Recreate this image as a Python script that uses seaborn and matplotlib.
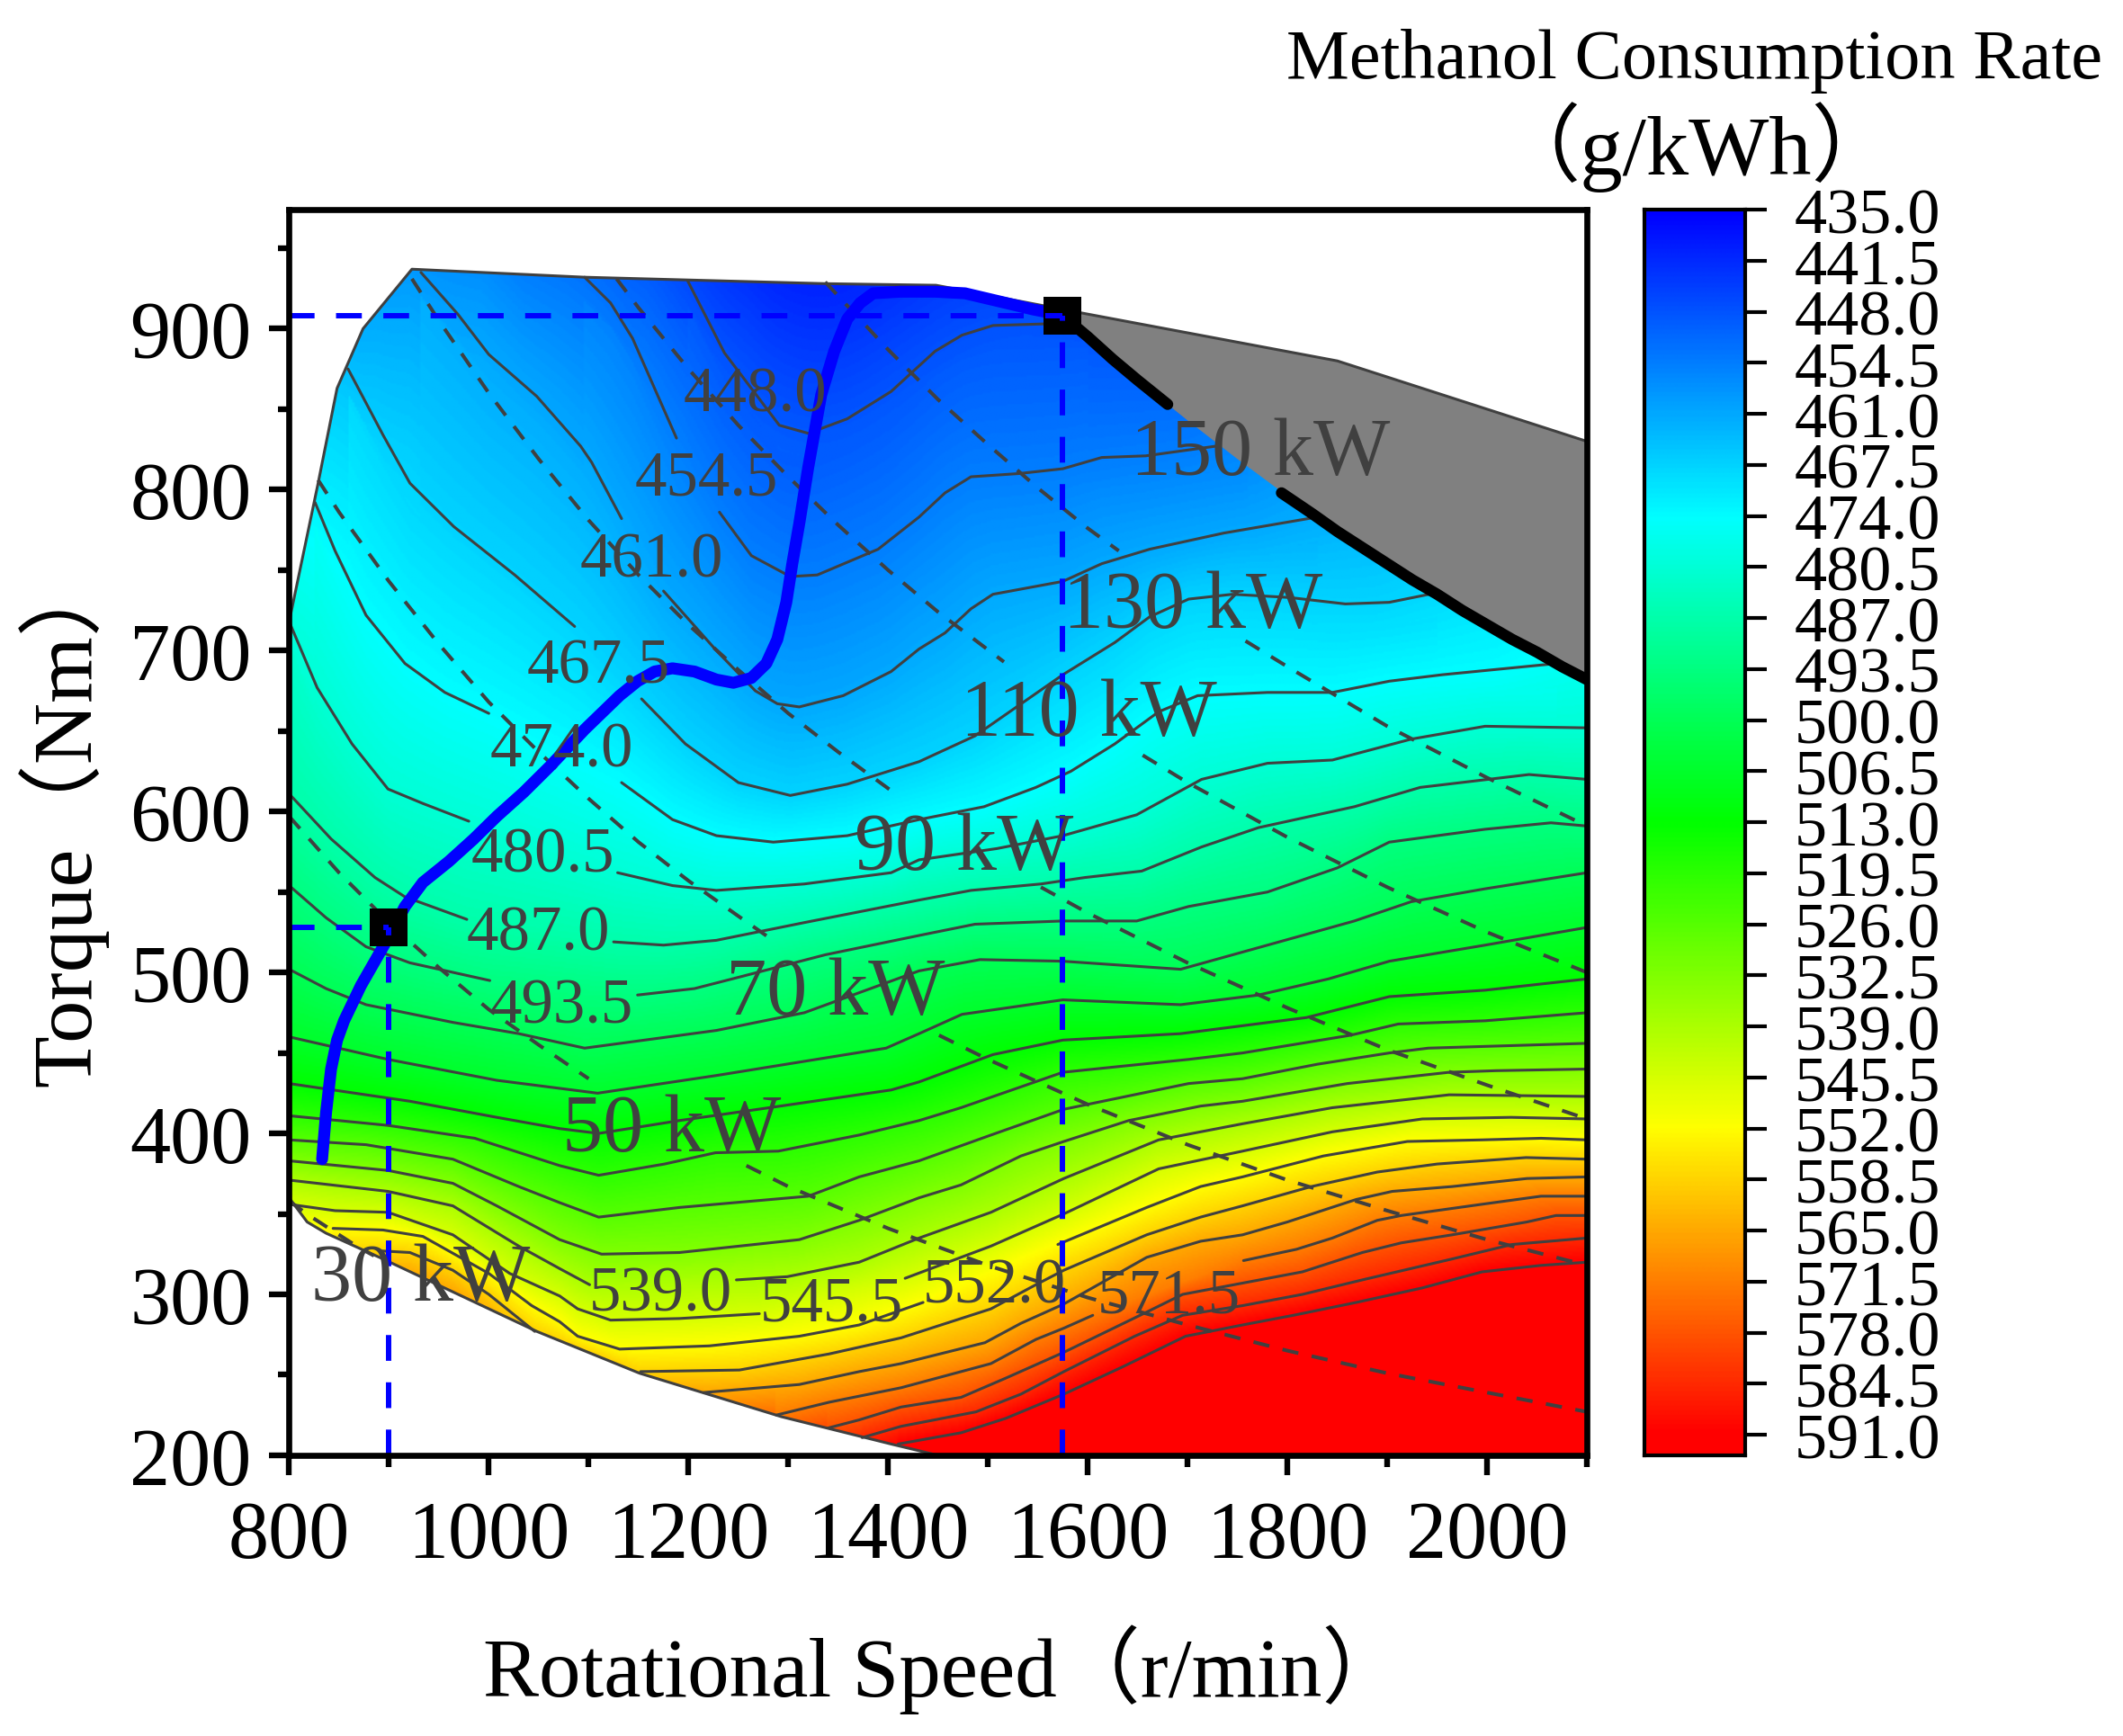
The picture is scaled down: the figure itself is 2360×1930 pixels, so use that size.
import numpy as np
import pandas as pd
import matplotlib
matplotlib.use("Agg")
import matplotlib.pyplot as plt
import seaborn as sns
from matplotlib.colors import LinearSegmentedColormap
from matplotlib.patches import Polygon
from matplotlib.ticker import MultipleLocator

# ================== DATA (speed, torque) ==================
c448 = [(1199,930),(1236,885),(1291,840),(1320,835),(1359,844),(1403,861),(1447,886),(1474,896),(1505,902),(1557,903),(1600,903)]
c454a = [(1096,932),(1122,916),(1144,894),(1188,832)]
c454b = [(1231,786),(1263,759),(1302,746),(1329,747),(1390,763),(1431,783),(1457,798),(1483,808),(1531,810),(1575,813),(1614,820),(1658,821),(1728,827),(1760,830)]
c461a = [(932,935),(969,909),(1000,884),(1048,858),(1092,827),(1103,817),(1133,782)]
c461b = [(1175,737),(1228,700),(1267,675),(1289,667),(1311,665),(1355,672),(1403,687),(1431,701),(1457,711),(1483,726),(1505,735),(1575,743),(1614,754),(1662,763),(1736,773),(1830,783)]
c467a = [(859,875),(894,834),(921,804),(965,777),(1026,747),(1086,715)]
c467b = [(1153,670),(1197,642),(1250,618),(1302,610),(1359,617),(1431,631),(1487,647),(1531,666),(1575,685),(1627,705),(1662,721),(1701,732),(1745,735),(1802,733),(1858,729),(1902,730),(1950,736)]
c474a = [(826,792),(846,762),(877,722),(916,692),(956,674),(1000,661)]
c474b = [(1133,618),(1184,595),(1228,585),(1285,581),(1359,585),(1431,595),(1496,603),(1548,615),(1583,625),(1627,642),(1671,662),(1710,672),(1780,674),(1845,674),(1902,681),(1955,685),(2070,692)]
c480a = [(800,718),(828,677),(863,642),(899,614),(934,605),(980,594)]
c480b = [(1129,562),(1184,554),(1228,551),(1316,555),(1403,562),(1431,570),(1509,577),(1575,585),(1649,598),(1714,620),(1780,630),(1845,632),(1924,645),(1998,653),(2100,652)]
c487a = [(800,611),(842,583),(886,559),(916,547),(978,533)]
c487b = [(1125,519),(1175,517),(1228,520),(1316,531),(1431,545),(1483,551),(1553,555),(1597,559),(1654,563),(1714,578),(1771,590),(1867,603),(1933,615),(2042,623),(2100,620)]
c493a = [(800,554),(837,534),(877,516),(921,506),(1001,495)]
c493b = [(1149,486),(1206,490),(1250,497),(1337,511),(1431,523),(1487,530),(1575,532),(1649,532),(1701,541),(1780,550),(1850,565),(1902,581),(1998,589),(2064,593),(2100,591)]
c500 = [(800,502),(837,490),(877,480),(964,469),(1030,462),(1096,453),(1228,464),(1316,475),(1431,501),(1492,508),(1575,507),(1693,502),(1780,517),(1867,532),(1924,544),(1998,552),(2100,562)]
c506 = [(800,460),(899,446),(1008,433),(1109,425),(1228,436),(1398,453),(1431,462),(1474,474),(1575,483),(1693,480),(1771,486),(1841,496),(1902,507),(1998,517),(2100,528)]
c513 = [(800,431),(921,420),(1008,410),(1071,403),(1110,400),(1191,408),(1281,416),(1403,427),(1431,432),(1505,449),(1575,458),(1693,462),(1819,472),(1902,485),(1998,489),(2100,496)]
c519 = [(800,411),(899,405),(986,397),(1071,380),(1110,374),(1176,381),(1227,388),(1290,389),(1371,399),(1431,408),(1473,416),(1575,438),(1701,446),(1755,450),(1863,461),(1911,468),(1998,470),(2100,475)]
c526 = [(800,396),(877,393),(964,384),(1030,367),(1071,357),(1110,348),(1191,354),(1320,361),(1371,373),(1431,383),(1503,399),(1576,415),(1701,431),(1755,434),(1830,443),(1902,450),(1941,453),(2100,456)]
c532 = [(800,383),(899,377),(964,369),(1008,355),(1071,334),(1113,325),(1191,326),(1311,334),(1371,346),(1431,360),(1473,368),(1533,386),(1576,395),(1641,408),(1713,417),(1755,420),(1860,431),(1962,438),(2009,439),(2100,440)]
c539a = [(800,371),(899,364),(964,355),(1030,330),(1071,316),(1101,306)]
c539b = [(1248,309),(1299,311),(1371,320),(1431,335),(1503,351),(1576,372),(1671,396),(1755,406),(1845,416),(1962,424),(2100,423)]
c545a = [(800,356),(846,352),(899,351),(964,337),(1021,313),(1071,299),(1089,291),(1122,284),(1191,285),(1271,288)]
c545b = [(1417,310),(1503,330),(1576,350),(1671,378),(1755,389),(1845,401),(1935,409),(2024,410),(2100,409)]
c552a = [(844,341),(894,340),(934,336),(1000,313),(1043,293),(1071,283),(1089,274),(1131,266),(1221,268),(1311,274),(1371,281),(1435,295)]
c552b = [(1570,331),(1659,354),(1713,367),(1755,373),(1836,386),(1920,395),(1995,396),(2054,397),(2100,396)]
c558a = [(892,327),(921,326),(964,315),(1000,300),(1046,277)]
c558b = [(1152,252),(1251,253),(1341,263),(1413,273),(1503,291),(1548,306),(1576,315),(1659,337),(1713,348),(1755,355),(1824,367),(1890,376),(1950,381),(2039,385),(2100,384)]
c565 = [(1215,239),(1311,244),(1371,252),(1413,257),(1497,270),(1533,282),(1576,294),(1659,323),(1713,333),(1755,337),(1800,345),(1869,359),(1905,364),(1965,367),(2040,372),(2100,373)]
c571a = [(1288,225),(1341,233),(1413,242),(1503,257),(1548,272),(1576,279),(1605,287)]
c571b = [(1756,321),(1809,328),(1845,335),(1890,346),(1914,349),(1995,356),(2054,361),(2100,361)]
c578 = [(1340,217),(1371,222),(1413,230),(1473,236),(1518,248),(1576,264),(1659,289),(1695,300),(1755,307),(1815,314),(1875,326),(1914,332),(1965,337),(2040,345),(2069,349),(2100,349)]
c584 = [(1374,211),(1413,218),(1488,227),(1533,238),(1576,252),(1647,274),(1695,287),(1755,293),(1815,300),(1875,309),(1965,322),(2025,331),(2100,335)]
c591 = [(1410,207),(1473,214),(1518,223),(1576,238),(1635,255),(1698,274),(1755,281),(1806,287),(1869,295),(1935,304),(1995,314),(2054,318),(2100,320)]

contours = {448.0: [c448], 454.5: [c454a, c454b], 461.0: [c461a, c461b], 467.5: [c467a, c467b],
            474.0: [c474a, c474b], 480.5: [c480a, c480b], 487.0: [c487a, c487b], 493.5: [c493a, c493b],
            500.0: [c500], 506.5: [c506], 513.0: [c513], 519.5: [c519], 526.0: [c526], 532.5: [c532],
            539.0: [c539a, c539b], 545.5: [c545a, c545b], 552.0: [c552a, c552b], 558.5: [c558a, c558b],
            565.0: [c565], 571.5: [c571a, c571b], 578.0: [c578], 584.5: [c584], 591.0: [c591]}

# constant power curves
p30 = [(800,358),(820,349),(845,339),(870,329),(885,324)]
p50a = [(800,597),(850,562),(900,531),(950,503),(1000,477),(1050,455),(1100,434)]
p50b = [(1258,380),(1300,367),(1400,341),(1500,318),(1600,298),(1700,281),(1800,265),(1900,251),(2000,239),(2100,227)]
p70a = [(829,806),(850,786),(900,743),(950,704),(1000,668),(1050,637),(1100,608),(1150,581),(1200,557),(1250,535),(1280,522)]
p70b = [(1451,461),(1500,446),(1600,418),(1700,393),(1800,371),(1900,352),(2000,334),(2100,318)]
p90a = [(923,931),(950,905),(1000,860),(1050,819),(1100,781),(1150,747),(1200,716),(1250,688),(1300,661),(1350,637),(1403,613)]
p90b = [(1553,553),(1600,537),(1700,506),(1800,478),(1900,452),(2000,430),(2100,409)]
p110a = [(1128,931),(1150,913),(1200,875),(1250,840),(1300,808),(1350,778),(1400,750),(1450,724),(1516,693)]
p110b = [(1655,635),(1700,618),(1800,584),(1900,553),(2000,525),(2100,500)]
p130a = [(1337,929),(1400,887),(1450,856),(1500,828),(1550,801),(1600,776),(1631,762)]
p130b = [(1758,706),(1800,690),(1900,653),(2000,621),(2100,591)]
power_segs = [p30, p50a, p50b, p70a, p70b, p90a, p90b, p110a, p110b, p130a, p130b]
p150a = [(1575,908),(1600,895),(1625,881),(1650,868),(1680,853)]
p150b = [(1794,798),(1825,785),(1850,774),(1875,764),(1900,754),(1925,744),(1950,735),(1975,725),(2000,716),(2025,707),(2050,699),(2075,690),(2100,682)]

# operating line and its two end points
blue_line = [(833,384),(837,413),(842,440),(848,458),(855,470),(872,492),(896,518),(916,541),(934,556),(960,569),(985,583),(1008,597),(1035,612),(1061,628),(1096,651),(1131,672),(1149,681),(1166,687),(1184,689),(1206,687),(1228,682),(1245,680),(1263,683),(1278,692),(1289,707),(1298,730),(1304,754),(1311,779),(1320,814),(1333,859),(1346,886),(1359,906),(1372,916),(1385,922),(1412,923),(1447,923),(1477,922),(1518,916),(1545,912),(1570,909)]
mark_speed = [900, 1575]
mark_torque = [528, 908]

# outline of the map
top_edge = [(800,718),(829,804),(848,863),(874,900),(923,937),(1096,932),(1337,928),(1448,927),(1592,910),(1850,880),(2100,830)]
low_edge = [(800,360),(818,345),(837,338),(894,322),(1048,277),(1151,251),(1293,224),(1403,207),(1450,200)]
gray_lower = [(1575,908),(1600,895),(1650,868),(1700,843),(1750,819),(1800,796),(1850,774),(1900,754),(1950,735),(2000,716),(2050,699),(2100,682)]
gray_upper = [(1592,910),(1850,880),(2100,830)]

level_names = ["448.0","454.5","461.0","467.5","474.0","480.5","487.0","493.5","539.0","545.5","552.0","571.5"]
level_x = [1267,1218,1163,1110,1073,1054,1050,1073,1172,1343,1506,1681]
level_y = [859,807,756,690,638,573,524,479,300,294,305,299]
power_names = ["30 kW","50 kW","70 kW","90 kW","110 kW","130 kW","150 kW"]
power_x = [932,1183,1347,1476,1601,1705,1773]
power_y = [309,402,487,577,660,727,822]
bar_ticks = [435.0,441.5,448.0,454.5,461.0,467.5,474.0,480.5,487.0,493.5,500.0,506.5,513.0,519.5,526.0,532.5,539.0,545.5,552.0,558.5,565.0,571.5,578.0,584.5,591.0]

# ================== CONFIG ==================
sns.set_theme(style="ticks")
plt.rcParams["font.family"] = ["Liberation Serif", "Noto Sans CJK SC"]
plt.rcParams["axes.unicode_minus"] = False
DARK = "#404040"
cmap = LinearSegmentedColormap.from_list("rate", ["#0000ff", "#00ffff", "#00ff00", "#ffff00", "#ff0000"])

# ================== FIELD ==================
speeds = np.arange(800, 2101, 2)
torques = np.arange(200, 976, 1)
field = np.zeros((len(torques), len(speeds)))
above = np.zeros_like(field, dtype=bool)
for j, s in enumerate(speeds):
    kt, kv = [], []
    for lev, segs in contours.items():
        pts = np.array([p for seg in segs for p in seg], float)
        if pts[0, 0] <= s <= pts[-1, 0]:
            kt.append(np.interp(s, pts[:, 0], pts[:, 1]))
            kv.append(lev)
    order = np.argsort(kt)
    kt = np.array(kt)[order]
    kv = np.array(kv)[order]
    col = np.interp(torques, kt, kv)
    col = np.where(torques < kt[0], kv[0] + (kt[0] - torques) * 0.5, col)
    col = np.where(torques > kt[-1], kv[-1] - (torques - kt[-1]) * 0.09, col)
    field[:, j] = col
    above[:, j] = torques > kt[-1] - 15

# the part above the last line has steps where a line starts, soften it sideways
kernel = np.ones(61) / 61
soft = np.array([np.convolve(np.pad(row, 30, mode="edge"), kernel, mode="valid") for row in field])
field = np.where(above, soft, field)

# ================== FIGURE ==================
fig = plt.figure(figsize=(23.6, 19.31), dpi=100)
ax = fig.add_axes([0.1362, 0.1616, 0.6113, 0.7172])
cax = fig.add_axes([0.7746, 0.1616, 0.0475, 0.7172])


def draw(points, **kws):
    df = pd.DataFrame(points, columns=["speed", "torque"])
    sns.lineplot(data=df, x="speed", y="torque", estimator=None, sort=False, ax=ax, legend=False, **kws)


im = ax.imshow(field, origin="lower", extent=[800, 2100, 200, 975], aspect="auto", cmap=cmap,
               vmin=435, vmax=591, interpolation="bilinear", zorder=1)
outline = top_edge + [(2100, 200), (1450, 200)] + low_edge[::-1]
clip = Polygon(outline, closed=True, transform=ax.transData, facecolor="none", edgecolor="none")
ax.add_patch(clip)
im.set_clip_path(clip)

for segs in contours.values():
    for seg in segs:
        draw(seg, color=DARK, linewidth=2.2, zorder=2)

ax.fill([p[0] for p in gray_lower + gray_upper[::-1]], [p[1] for p in gray_lower + gray_upper[::-1]],
        color="#808080", linewidth=0, zorder=3)
draw(top_edge, color=DARK, linewidth=2.2, zorder=4)
draw(low_edge, color=DARK, linewidth=2.2, zorder=4)

for seg in power_segs:
    draw(seg, color=DARK, linewidth=2.9, linestyle=(0, (4.5, 3.75)), dash_capstyle="butt", zorder=4)
draw(p150a, color="black", linewidth=9, zorder=4)
draw(p150b, color="black", linewidth=9, zorder=4)

draw(blue_line, color="#0000ff", linewidth=9.5, zorder=5, solid_capstyle="round")
sns.scatterplot(x=mark_speed, y=mark_torque, marker="s", s=900, color="black", linewidth=0, ax=ax, zorder=6, legend=False)
blue_dash = (0, (4.8, 4.0))
for s, t in zip(mark_speed, mark_torque):
    ax.plot([800, s], [t, t], color="#0000ff", linewidth=4.3, linestyle=blue_dash, dash_capstyle="butt", zorder=7)
    ax.plot([s, s], [200, t], color="#0000ff", linewidth=4.3, linestyle=blue_dash, dash_capstyle="butt", zorder=7)

for name, x, y in zip(level_names, level_x, level_y):
    ax.text(x, y, name, fontsize=51, color=DARK, ha="center", va="center", zorder=8)
for name, x, y in zip(power_names, power_x, power_y):
    ax.text(x, y, name, fontsize=65, color=DARK, ha="center", va="center", zorder=8)

ax.set_xlim(800, 2100)
ax.set_ylim(200, 974)
ax.set_xlabel("")
ax.set_ylabel("")
ax.set_xticks(np.arange(800, 2001, 200))
ax.set_yticks(np.arange(200, 901, 100))
ax.xaxis.set_minor_locator(MultipleLocator(100))
ax.yaxis.set_minor_locator(MultipleLocator(50))
ax.tick_params(which="major", length=16, width=4.6, labelsize=65, color="black", labelcolor="black")
ax.tick_params(axis="x", which="major", pad=20)
ax.tick_params(axis="y", which="major", pad=14)
ax.tick_params(which="minor", length=9, width=4.6, color="black")
for sp in ax.spines.values():
    sp.set_linewidth(4.8)
    sp.set_color("black")
    sp.set_visible(True)
    sp.set_zorder(10)

# colour bar
grad = np.linspace(435, 593.6, 800).reshape(-1, 1)
cax.imshow(grad, cmap=cmap, vmin=435, vmax=591, aspect="auto", extent=[0, 1, 593.6, 435], interpolation="bilinear")
cax.set_xticks([])
cax.set_ylim(593.6, 435)
cax.yaxis.tick_right()
cax.set_yticks(bar_ticks)
cax.set_yticklabels(["%.1f" % v for v in bar_ticks])
cax.tick_params(axis="y", length=17, width=3, labelsize=52, pad=22, color="black", labelcolor="black")
for sp in cax.spines.values():
    sp.set_linewidth(3)
    sp.set_color("black")
    sp.set_visible(True)

fig.text(0.4449, 0.039, "Rotational Speed（r/min）", fontsize=67, ha="center", va="center", color="black")
fig.text(0.0295, 0.529, "Torque（Nm）", fontsize=68, rotation=90, ha="center", va="center", color="black")
fig.text(0.798, 0.965, "Methanol Consumption Rate", fontsize=56.5, ha="center", va="center", color="black")
fig.text(0.799, 0.9154, "（g/kWh）", fontsize=68, ha="center", va="center", color="black")

fig.savefig("out.png", dpi=100, facecolor="white")
